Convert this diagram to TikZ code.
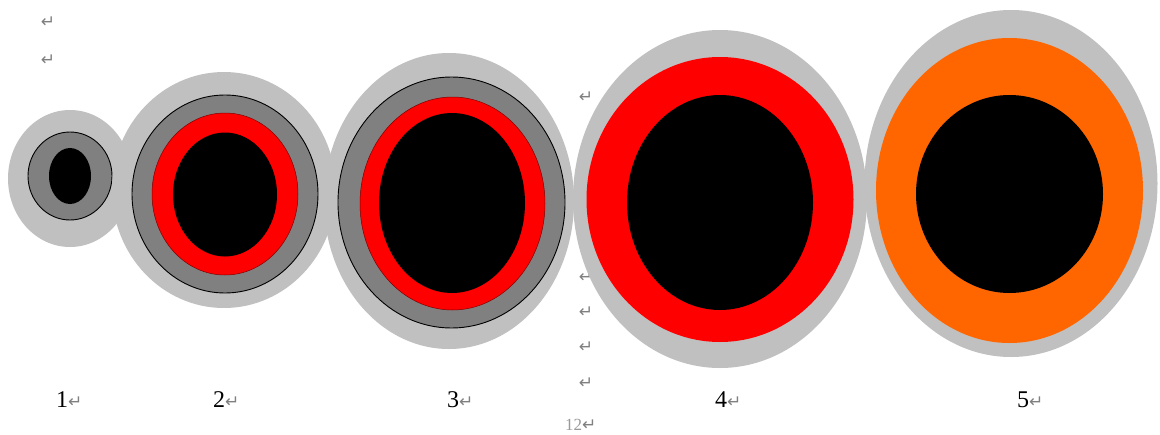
\documentclass[tikz,border=0pt]{standalone}
\usepackage{fontspec}
\setmainfont{Liberation Serif}
\newfontfamily\symfont{DejaVu Sans}

\definecolor{halogray}{HTML}{C0C0C0}
\definecolor{ringgray}{HTML}{808080}
\definecolor{ringred}{HTML}{FF0000}
\definecolor{ringorange}{HTML}{FF6600}
\definecolor{markgray}{HTML}{808080}
\definecolor{pagegray}{HTML}{999999}

% paragraph mark
\newcommand{\pmark}{{\symfont\fontsize{17}{17}\selectfont\textcolor{markgray}{↵}}}

\begin{document}
\begin{tikzpicture}[
    x=1pt, y=-1pt,
    halo/.style={fill=halogray},
    ring/.style={fill=ringgray, draw=black, line width=0.9pt},
    redring/.style={fill=ringred, draw=black!50!red, line width=0.5pt},
    flatred/.style={fill=ringred},
    flatorange/.style={fill=ringorange},
    core/.style={fill=black},
    parmark/.style={inner sep=0pt, anchor=center},
    numlbl/.style={inner sep=0pt, anchor=base west, font=\fontsize{24}{24}\selectfont},
    pagelbl/.style={inner sep=0pt, anchor=base west, text=pagegray, font=\fontsize{17}{17}\selectfont}
]

\useasboundingbox (0,0) rectangle (1160,434);
\fill[white] (0,0) rectangle (1160,434);

% ============================================================
% Paragraph marks (behind the rings)
% ============================================================
\node[parmark] (pm1) at (48,22) {\pmark};
\node[parmark] (pm2) at (48,60) {\pmark};
\foreach \yy/\nm in {97/a,277/b,312/c,347/d,383/e} {
    \node[parmark] (pmc\nm) at (586,\yy) {\pmark};
}

% ============================================================
% 1
% ============================================================
\fill[halo] (70,178.5) ellipse [x radius=62, y radius=68.5];
\filldraw[ring] (70,176) ellipse [x radius=42, y radius=44];
\fill[core] (70,176) ellipse [x radius=21, y radius=28];

% ============================================================
% 2
% ============================================================
\fill[halo] (224,190) ellipse [x radius=112, y radius=118];
\filldraw[ring] (225,194) ellipse [x radius=93, y radius=99];
\filldraw[redring] (225,194) ellipse [x radius=73, y radius=81];
\fill[core] (225,194.5) ellipse [x radius=52, y radius=62];

% ============================================================
% 3
% ============================================================
\fill[halo] (449,201) ellipse [x radius=125, y radius=148];
\filldraw[ring] (451.5,202.5) ellipse [x radius=113.5, y radius=125.5];
\filldraw[redring] (452.5,203.5) ellipse [x radius=92.5, y radius=106.5];
\fill[core] (452,203) ellipse [x radius=73, y radius=90];

% ============================================================
% 4
% ============================================================
\fill[halo] (720,199) ellipse [x radius=147, y radius=169];
\fill[flatred] (720,199.5) ellipse [x radius=133.5, y radius=142.5];
\fill[core] (720,202.5) ellipse [x radius=93, y radius=107.5];

% ============================================================
% 5
% ============================================================
\fill[halo] (1011,183.5) ellipse [x radius=146.5, y radius=173.5];
\fill[flatorange] (1009.5,190.5) ellipse [x radius=133.5, y radius=152.5];
\fill[core] (1009.5,194) ellipse [x radius=93.5, y radius=99];

% ============================================================
% Labels
% ============================================================
\node[numlbl] (lbl1) at (56,407) {1\pmark};
\node[numlbl] (lbl2) at (213,407) {2\pmark};
\node[numlbl] (lbl3) at (447,407) {3\pmark};
\node[numlbl] (lbl4) at (715,407) {4\pmark};
\node[numlbl] (lbl5) at (1017,407) {5\pmark};
\node[pagelbl] (pagenum) at (565,430) {12\pmark};

\end{tikzpicture}
\end{document}
